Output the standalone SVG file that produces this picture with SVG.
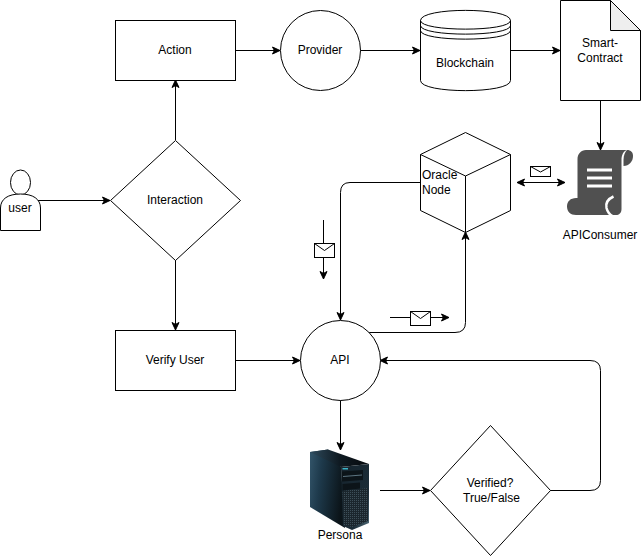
<svg xmlns="http://www.w3.org/2000/svg" width="641" height="556" viewBox="0 0 641 556">
<style>
.s{fill:#fff;stroke:#000;stroke-width:1}
.f{fill:none;stroke:#000;stroke-width:1}
.c{fill:none;stroke:#000;stroke-width:1;marker-end:url(#a)}
.b{fill:none;stroke:#000;stroke-width:1;marker-end:url(#a);marker-start:url(#r)}
text{font-family:"Liberation Sans",Arial,sans-serif;font-size:12px;fill:#000;text-anchor:middle}
</style>
<defs>
<marker id="a" markerWidth="10" markerHeight="10" refX="8" refY="5" orient="auto" markerUnits="userSpaceOnUse" overflow="visible"><path d="M0.500 1.500L8 5L0.500 8.500L2.400 5Z" fill="#000" stroke="#000" stroke-width="1"/></marker>
<marker id="r" markerWidth="10" markerHeight="10" refX="2" refY="5" orient="auto" markerUnits="userSpaceOnUse" overflow="visible"><path d="M9.500 1.500L2 5L9.500 8.500L7.600 5Z" fill="#000" stroke="#000" stroke-width="1"/></marker>
<linearGradient id="side" x1="0" y1="0" x2="1" y2="0.25"><stop offset="0" stop-color="#33556a"/><stop offset="0.35" stop-color="#1e3a4c"/><stop offset="1" stop-color="#0b1419"/></linearGradient>
<linearGradient id="top" x1="0" y1="0" x2="1" y2="0"><stop offset="0" stop-color="#2e4a5c"/><stop offset="0.5" stop-color="#0f1a22"/><stop offset="1" stop-color="#06090c"/></linearGradient>
<linearGradient id="front" x1="0" y1="0" x2="1" y2="1"><stop offset="0" stop-color="#16242d"/><stop offset="0.7" stop-color="#1b2c37"/><stop offset="1" stop-color="#54707e"/></linearGradient>
<pattern id="grille" width="2" height="2" patternUnits="userSpaceOnUse"><rect width="2" height="2" fill="#1b262d"/><rect width="1" height="1" fill="#3d4f59"/></pattern>
</defs>

<g id="connectors">
<path class="c" d="M235 50.500H280"/>
<path class="c" d="M360 50.500H420"/>
<path class="c" d="M510 50.500H560"/>
<path class="c" d="M600.500 100V150"/>
<path class="c" d="M175.500 140V80"/>
<path class="c" d="M175.500 260V330"/>
<path class="c" d="M36 200.500H110"/>
<path class="c" d="M235 360.500H300"/>
<path class="c" d="M340.500 400V450"/>
<path class="c" d="M380 490.500H430"/>
<path class="c" d="M420 182.500H350Q340.500 182.500 340.500 192.500V320"/>
<path class="c" d="M368 332.500L455 332.500Q465.500 332.500 465.500 322.500V232"/>
<path class="c" d="M550 490.500H590Q600.500 490.500 600.500 480.500V370.500Q600.500 360.500 590 360.500H380"/>
<path class="b" d="M517 182.500H565"/>
<path class="c" d="M323.500 220V279"/>
<path class="c" d="M390 317.500H449"/>
</g>

<g id="msg1"><rect class="s" x="530.500" y="166.500" width="20" height="10"/><path class="f" d="M530.500 166.500L540.500 172L550.500 166.500"/></g>
<g id="msg2"><rect class="s" x="314.500" y="243.500" width="20" height="14"/><path class="f" d="M314.500 243.500L324.500 250.500L334.500 243.500"/></g>
<g id="msg3"><rect class="s" x="410.500" y="311.500" width="20" height="14"/><path class="f" d="M410.500 311.500L420.500 318.500L430.500 311.500"/></g>

<g id="action"><rect class="s" x="115.500" y="20.500" width="120" height="60"/><text x="175" y="54">Action</text></g>
<g id="provider"><circle class="s" cx="320.500" cy="50.500" r="40"/><text x="320" y="54">Provider</text></g>
<g id="blockchain">
<path class="s" d="M420.500 20.500C420.500 7 510.500 7 510.500 20.500V80.500C510.500 94 420.500 94 420.500 80.500Z"/>
<path class="f" d="M420.500 20.500C420.500 32 510.500 32 510.500 20.500M420.500 25.500C420.500 37 510.500 37 510.500 25.500M420.500 30.500C420.500 42 510.500 42 510.500 30.500"/>
<text x="465" y="67">Blockchain</text>
</g>
<g id="smart-contract">
<path class="s" d="M560.500 0.500H610.500L640.500 30.500V100.500H560.500Z"/>
<path d="M610.500 0.500V30.500H640.500Z" fill="#eee" stroke="#000"/>
<text x="600" y="47">Smart-</text><text x="600" y="62">Contract</text>
</g>
<g id="apiconsumer">
<path fill="#505050" d="M586 150H627C623.500 151 621.500 155 621.500 160V209C621.500 213 619 215 616 215H576C570.500 215 567 211.500 567 206.500C567 201.500 570.500 198 576 198H577.500V159C577.500 154 581 150 586 150Z"/>
<path fill="#505050" d="M627 150C631 150 633 152.500 633 156C633 161.500 629 166 623.500 166V160C623.500 155.500 625 152 627 150Z"/>
<path fill="none" stroke="#fff" stroke-width="2.500" d="M613.500 196.500C608 199 605.500 203 606.500 208C607.500 212 609.500 214.500 612.500 216"/>
<path fill="#fff" d="M587 168.500H612V171.500H587ZM587 176.500H612V179.500H587ZM587 184.500H612V187.500H587Z"/>
<text x="600" y="239">APIConsumer</text>
</g>
<g id="oracle-node">
<path class="s" d="M465.500 132.500L510.500 154.500V210.500L465.500 232.500L420.500 210.500V154.500Z"/>
<path class="f" d="M420.500 154.500L465.500 176V232.500M465.500 176L510.500 154.500"/>
<text x="422" y="179" style="text-anchor:start">Oracle</text><text x="422" y="194" style="text-anchor:start">Node</text>
</g>
<g id="user">
<ellipse class="s" cx="20.500" cy="182.500" rx="10" ry="12.500"/>
<path class="s" d="M0.500 230.500V208C0.500 199 8 194 20.500 194C33 194 40.500 199 40.500 208V230.500Z"/>
<text x="20" y="212">user</text>
</g>
<g id="interaction"><path class="s" d="M175.500 140.500L240.500 200.500L175.500 260.500L110.500 200.500Z"/><text x="175" y="204">Interaction</text></g>
<g id="verify-user"><rect class="s" x="115.500" y="330.500" width="120" height="60"/><text x="175" y="364">Verify User</text></g>
<g id="api"><circle class="s" cx="340.500" cy="360.500" r="40"/><text x="340" y="364">API</text></g>
<g id="persona">
<path fill="url(#side)" d="M310 452L328 449.500L341 467L345 528L310 507Z"/>
<path fill="url(#top)" d="M310 452L328 449.500L369 464L341 467Z"/>
<path fill="url(#front)" d="M341 467L369 464V523L352 530L343 526Z"/>
<path fill="#0c1419" d="M342 471.500L363 470V480L342 481.500Z"/>
<path fill="#5c7480" d="M343 476L362 474.500V475.500L343 477Z"/>
<path fill="#3cb4c8" d="M342.500 468H348V469.500H342.500Z"/>
<path fill="#0c1419" d="M342.500 484L360 482.500V488.500L342.500 490.500Z"/>
<path fill="url(#grille)" d="M342.500 491L368 488V521L352 527L344 525Z"/>
<text x="340" y="539">Persona</text>
</g>
<g id="verified"><path class="s" d="M490.500 425.500L550.500 490.500L490.500 555.500L430.500 490.500Z"/><text x="490" y="487">Verified?</text><text x="491.500" y="502">True/False</text></g>
</svg>
